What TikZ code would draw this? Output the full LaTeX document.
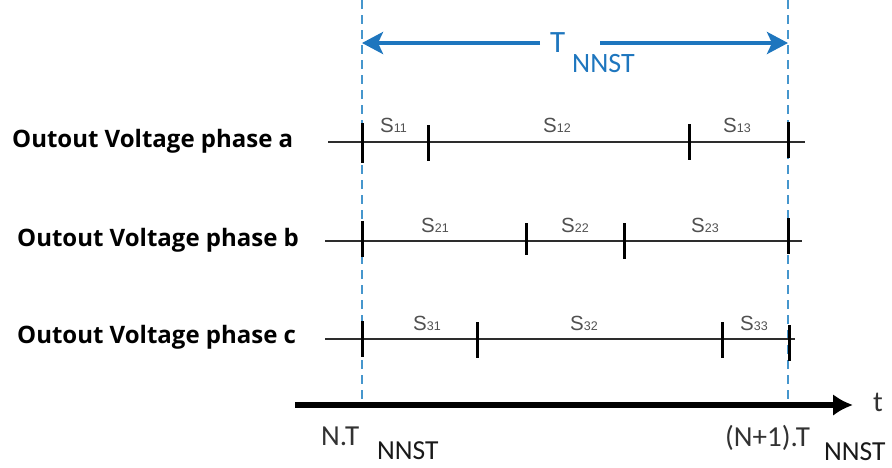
\documentclass[tikz,border=0pt]{standalone}
\usepackage{fontspec}
\setmainfont{Carlito}
\newfontfamily\phasefont{Open Sans}
\newfontfamily\segfont{Liberation Sans}
\usetikzlibrary{arrows.meta}

\definecolor{nnstblue}{RGB}{30,118,190}
\definecolor{dashblue}{RGB}{70,150,205}
\definecolor{segtext}{RGB}{80,80,80}
\definecolor{axistext}{RGB}{50,50,50}
\definecolor{linegray}{RGB}{45,45,45}

\newcommand\subidx[1]{{\fontsize{12.5}{13}\selectfont #1}}

\tikzset{
  periodline/.style={dashblue, line width=1.2pt, dash pattern=on 9pt off 6pt},
  periodarrow/.style={nnstblue, line width=4pt, -{Stealth[length=21pt,width=22pt,inset=5pt]}},
  periodlabel/.style={text=nnstblue, inner sep=0pt, anchor=base west},
  phaselabel/.style={font=\phasefont\bfseries\fontsize{24}{26}\selectfont, text=black, inner sep=0pt, anchor=base west},
  phaseline/.style={linegray, line width=1.8pt},
  tickmark/.style={fill=black, draw=none, inner sep=0pt, minimum width=3pt, minimum height=36pt},
  seglabel/.style={font=\segfont\fontsize{20.5}{22}\selectfont, text=segtext, inner sep=0pt, anchor=base west},
  axisarrow/.style={black, line width=6pt, -{Latex[length=20pt,width=22pt]}},
  axislabel/.style={font=\fontsize{29}{31}\selectfont, text=axistext, inner sep=0pt, anchor=base west},
  axissub/.style={font=\fontsize{27.5}{29}\selectfont, text=black!90, inner sep=0pt, anchor=base west}
}

\begin{document}
\begin{tikzpicture}[x=1pt, y=-1pt]
  \useasboundingbox (0,0) rectangle (892,467);

  % period boundaries
  \coordinate (L0) at (362,0);
  \coordinate (L1) at (362,405);
  \coordinate (R0) at (788,0);
  \coordinate (R1) at (788,405);
  \draw[periodline] (L0) -- (L1);
  \draw[periodline] (R0) -- (R1);

  % period length T_NNST
  \node[periodlabel, font=\fontsize{31}{33}\selectfont] (Tp) at (550,52) {T};
  \node[periodlabel, font=\fontsize{28}{30}\selectfont] (Tpsub) at (572,72) {NNST};
  \coordinate (gapL) at (540,43);
  \coordinate (gapR) at (600,43);
  \coordinate (arrL) at (362,43);
  \coordinate (arrR) at (788,43);
  \draw[periodarrow] (gapL) -- (arrL);
  \draw[periodarrow] (gapR) -- (arrR);

  % phase labels
  \node[phaselabel] (pa) at (12,147) {Outout Voltage phase a};
  \node[phaselabel] (pb) at (17,246) {Outout Voltage phase b};
  \node[phaselabel] (pc) at (17,343) {Outout Voltage phase c};

  % phase a
  \coordinate (a0) at (328,142);
  \coordinate (a1) at (805,142);
  \draw[phaseline] (a0) -- (a1);
  \node[tickmark, minimum height=40pt] (ta1) at (362,142.5) {};
  \node[tickmark] (ta2) at (428,142.5) {};
  \node[tickmark] (ta3) at (689,142) {};
  \node[tickmark] (ta4) at (788,140) {};
  \node[seglabel] (s11) at (380,132) {S\subidx{11}};
  \node[seglabel] (s12) at (543,132) {S\subidx{12}};
  \node[seglabel] (s13) at (723,132) {S\subidx{13}};

  % phase b
  \coordinate (b0) at (325,241);
  \coordinate (b1) at (802,241);
  \draw[phaseline] (b0) -- (b1);
  \node[tickmark] (tb1) at (362,239) {};
  \node[tickmark, minimum height=32pt] (tb2) at (526,238.5) {};
  \node[tickmark] (tb3) at (624,240.5) {};
  \node[tickmark] (tb4) at (788,236) {};
  \node[seglabel] (s21) at (421,232) {S\subidx{21}};
  \node[seglabel] (s22) at (561,232) {S\subidx{22}};
  \node[seglabel] (s23) at (691,232) {S\subidx{23}};

  % phase c
  \coordinate (c0) at (325,339);
  \coordinate (c1) at (795,339);
  \draw[phaseline] (c0) -- (c1);
  \node[tickmark] (tc1) at (362,339) {};
  \node[tickmark] (tc2) at (477,339.5) {};
  \node[tickmark] (tc3) at (722,339.5) {};
  \node[tickmark] (tc4) at (789,342.5) {};
  \node[seglabel] (s31) at (413,330) {S\subidx{31}};
  \node[seglabel] (s32) at (570,330) {S\subidx{32}};
  \node[seglabel] (s33) at (740,330) {S\subidx{33}};

  % time axis
  \coordinate (ax0) at (295,405);
  \coordinate (ax1) at (853,405);
  \draw[axisarrow] (ax0) -- (ax1);
  \node[axislabel] (tlab) at (873,411) {t};
  \node[axislabel] (nT) at (321,445) {N.T};
  \node[axissub] (nTsub) at (377,459) {NNST};
  \node[axislabel] (n1T) at (725,446) {(N+1).T};
  \node[axissub] (n1Tsub) at (824,460) {NNST};
\end{tikzpicture}
\end{document}
